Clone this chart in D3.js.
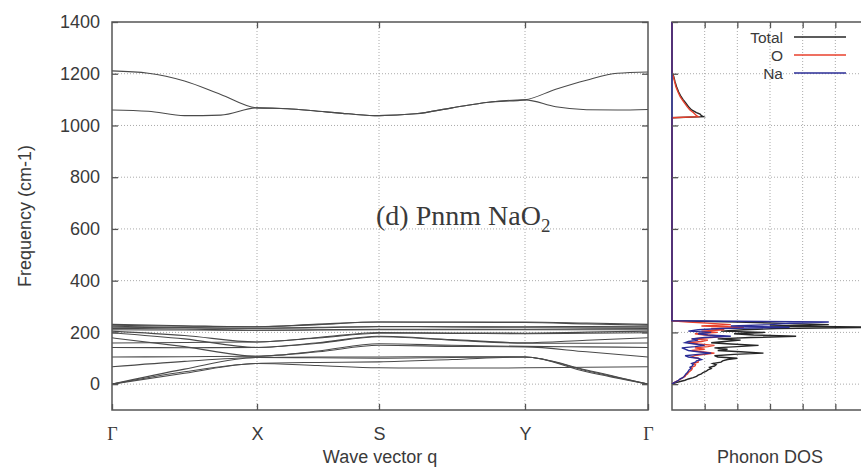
<!DOCTYPE html>
<html>
<head>
<meta charset="utf-8">
<script src="https://cdn.jsdelivr.net/npm/d3@7"></script>
<style>
  html, body { margin: 0; padding: 0; background: #fff; }
  svg { display: block; }
  text { font-family: "Liberation Sans", Arial, sans-serif; fill: #3a3a3a; }
  .serif { font-family: "Liberation Serif", "Times New Roman", serif; }
</style>
</head>
<body>
<svg id="chart" width="861" height="468"></svg>
<script>
// ---------------- DATA ----------------
const qLabels = ["Γ", "X", "S", "Y", "Γ"];
const qTicks = [0, 1, 2, 3, 4];
const freqTicks = [0, 200, 400, 600, 800, 1000, 1200, 1400];
const dosTicks = [1, 2, 3, 4, 5];

// Low-frequency branches sampled at Γ, ½, X, ½, S, ½, Y, ½, Γ
const qLow = [0, 0.5, 1, 1.5, 2, 2.5, 3, 3.5, 4];
const lowBranches = [
  [231, 226, 222, 232, 240, 240, 240, 236, 231],
  [228, 224, 222, 230, 240, 239, 238, 233, 228],
  [224, 219, 216, 220, 223, 222, 222, 223, 224],
  [220, 218, 216, 218, 222, 221, 220, 220, 220],
  [215, 213, 208, 210, 212, 212, 212, 214, 215],
  [210, 209, 208, 209, 210, 210, 210, 210, 210],
  [205, 188, 163, 180, 200, 198, 197, 201, 205],
  [199, 175, 142, 160, 185, 172, 160, 170, 179],
  [179, 145, 108, 128, 156, 150, 146, 144, 142],
  [159, 161, 163, 178, 197, 196, 195, 197, 199],
  [142, 141, 142, 158, 183, 170, 158, 158, 159],
  [105, 106, 108, 125, 150, 146, 144, 125, 105],
  [67, 88, 103, 105, 105, 106, 105, 55, 0],
  [0, 58, 103, 102, 100, 103, 105, 52, 0],
  [0, 48, 80, 84, 86, 95, 105, 48, 0],
  [0, 42, 80, 72, 63, 62, 63, 65, 67]
];

// High-frequency (O–O stretch) branches sampled every quarter segment
const qHigh = [0, 0.25, 0.5, 0.75, 1, 1.25, 1.5, 1.75, 2, 2.25, 2.5, 2.75, 3, 3.25, 3.5, 3.75, 4];
const highUpper = [1211, 1202, 1172, 1120, 1068, 1065, 1055, 1045, 1038, 1045, 1068, 1090, 1099, 1140, 1175, 1202, 1207];
const highLower = [1060, 1055, 1038, 1040, 1068, 1065, 1055, 1045, 1038, 1045, 1068, 1090, 1099, 1072, 1061, 1060, 1062];

// Phonon DOS (arbitrary units) – low-frequency region
const dosFreqLow = [0,5,10,15,20,25,30,35,40,45,50,55,60,65,70,75,80,85,90,95,100,105,110,115,120,125,130,135,140,145,150,155,160,165,170,175,180,185,190,195,200,205,210,215,220,225,230,235,240,245,250];
const dosTotalLow = [0,0.1,0.25,0.4,0.5,0.65,0.75,0.8,0.9,0.95,1.05,1.1,1.2,1.15,1.3,1.35,1.25,1.5,1.55,1.7,2.0,1.4,1.3,1.9,2.8,2.1,1.4,1.7,1.3,2.0,2.65,1.8,1.2,1.6,2.1,1.4,2.4,3.8,2.5,1.9,2.85,1.5,2.2,3.2,6.3,3.0,4.8,3.4,2.0,0,0];
const dosOLow = [0,0.05,0.12,0.2,0.27,0.33,0.4,0.42,0.48,0.5,0.55,0.6,0.62,0.6,0.7,0.72,0.65,0.8,0.8,0.85,0.8,0.6,0.7,1.0,1.3,0.9,0.6,1.0,0.7,1.1,1.3,0.8,0.5,0.9,1.1,0.6,1.2,1.6,1.0,0.7,1.4,0.9,1.6,1.2,2.2,0.9,1.8,1.2,0.5,0,0];
const dosNaLow = [0,0.05,0.13,0.2,0.25,0.33,0.37,0.4,0.43,0.47,0.5,0.52,0.58,0.55,0.62,0.65,0.6,0.72,0.75,0.9,0.8,0.5,0.4,0.8,1.2,0.8,0.5,0.4,0.3,0.7,1.0,0.7,0.4,0.5,0.8,0.6,1.0,1.8,1.1,0.8,1.2,0.5,0.8,1.5,3.6,1.8,3.0,3.6,4.8,0,0];

// Phonon DOS – high-frequency region
const dosFreqHigh = [1030,1034,1038,1044,1050,1060,1070,1087,1100,1111,1130,1150,1170,1190,1207,1220,1400];
const dosTotalHigh = [0,0.96,0.9,0.86,0.75,0.6,0.52,0.42,0.34,0.28,0.2,0.14,0.09,0.05,0,0,0];
const dosOHigh = [0,0.8,0.75,0.7,0.65,0.55,0.48,0.38,0.31,0.25,0.18,0.12,0.08,0.04,0,0,0];
const dosNaHigh = [0,0,0,0,0,0,0,0,0,0,0,0,0,0,0,0,0];

const legendNames = ["Total", "O", "Na"];
const seriesColors = ["#262626", "#e8412c", "#2a2d96"];

// ---------------- CHART ----------------
const svg = d3.select("#chart");
const yF = d3.scaleLinear().domain([-100, 1400]).range([410, 22]);
const xQ = d3.scaleLinear().domain(qTicks).range([112, 257, 379, 525, 648]);
const xD = d3.scaleLinear().domain([0, 6]).range([672, 868]);

const frameColor = "#555";
const gridStyle = sel => sel.attr("stroke", "#a0a0a0").attr("stroke-width", 0.9).attr("stroke-dasharray", "1,2");

// Grid - left panel
const gL = svg.append("g");
freqTicks.filter(v => v < 1400).forEach(v => {
  gL.append("line").attr("x1", xQ(0)).attr("x2", xQ(4)).attr("y1", yF(v)).attr("y2", yF(v)).call(gridStyle);
});
[1, 2, 3].forEach(v => {
  gL.append("line").attr("x1", xQ(v)).attr("x2", xQ(v)).attr("y1", yF(-100)).attr("y2", yF(1400)).call(gridStyle);
});
// Grid - DOS panel
freqTicks.filter(v => v < 1400).forEach(v => {
  gL.append("line").attr("x1", xD(0)).attr("x2", xD(6)).attr("y1", yF(v)).attr("y2", yF(v)).call(gridStyle);
});
dosTicks.forEach(v => {
  gL.append("line").attr("x1", xD(v)).attr("x2", xD(v)).attr("y1", yF(-100)).attr("y2", yF(1400)).call(gridStyle);
});

// Dispersion lines
const lineLow = d3.line().x((d, i) => xQ(qLow[i])).y(d => yF(d)).curve(d3.curveMonotoneX);
const lineHigh = d3.line().x((d, i) => xQ(qHigh[i])).y(d => yF(d)).curve(d3.curveMonotoneX);
const gB = svg.append("g").attr("fill", "none").attr("stroke", "#4a4a4a").attr("stroke-width", 1.05);
lowBranches.forEach(b => gB.append("path").attr("d", lineLow(b)));
[highUpper, highLower].forEach(b => gB.append("path").attr("d", lineHigh(b)));

// Frames
svg.append("rect").attr("x", xQ(0)).attr("y", yF(1400)).attr("width", xQ(4) - xQ(0)).attr("height", yF(-100) - yF(1400))
  .attr("fill", "none").attr("stroke", frameColor).attr("stroke-width", 1.5);
svg.append("rect").attr("x", xD(0)).attr("y", yF(1400)).attr("width", xD(6) - xD(0)).attr("height", yF(-100) - yF(1400))
  .attr("fill", "none").attr("stroke", frameColor).attr("stroke-width", 1.5);

// DOS curves (drawn over the frame, as in the reference)
const dosLine = d3.line().x(d => xD(d[1])).y(d => yF(d[0]));
const dosSeries = [
  [dosTotalLow, dosTotalHigh],
  [dosOLow, dosOHigh],
  [dosNaLow, dosNaHigh]
];
const clip = svg.append("clipPath").attr("id", "dosclip");
clip.append("rect").attr("x", xD(0) - 1).attr("y", yF(1400)).attr("width", xD(6) - xD(0) + 1).attr("height", yF(-100) - yF(1400));
const gD = svg.append("g").attr("clip-path", "url(#dosclip)").attr("fill", "none");
dosSeries.forEach((s, k) => {
  const pts = dosFreqLow.map((f, i) => [f, s[0][i]]).concat(dosFreqHigh.map((f, i) => [f, s[1][i]]));
  gD.append("path").attr("d", dosLine(pts)).attr("stroke", seriesColors[k]).attr("stroke-width", 1.4);
});

function styleAxis(g) {
  g.select(".domain").remove();
  g.selectAll(".tick line").attr("stroke", frameColor).attr("stroke-width", 1.3);
  g.selectAll(".tick text").attr("fill", "#3a3a3a");
}

// Left panel axes
svg.append("g").attr("transform", `translate(${xQ(0)},0)`)
  .call(d3.axisLeft(yF).tickValues(freqTicks).tickSize(-6).tickSizeOuter(0).tickPadding(12).tickFormat(d3.format("d")))
  .call(styleAxis)
  .call(g => g.selectAll(".tick text").style("font-size", "18px").style("font-family", "'Liberation Sans', Arial, sans-serif"));
svg.append("g").attr("transform", `translate(${xQ(4)},0)`)
  .call(d3.axisRight(yF).tickValues(freqTicks).tickSize(-6).tickSizeOuter(0).tickFormat(""))
  .call(styleAxis);
svg.append("g").attr("transform", `translate(0,${yF(-100)})`)
  .call(d3.axisBottom(xQ).tickValues(qTicks).tickSize(-6).tickSizeOuter(0).tickPadding(17).tickFormat(i => qLabels[i]))
  .call(styleAxis)
  .call(g => g.selectAll(".tick text").style("font-size", "18px")
    .style("font-family", (d) => qLabels[d] === "Γ" ? "'Liberation Serif', serif" : "'Liberation Sans', Arial, sans-serif"));
svg.append("g").attr("transform", `translate(0,${yF(1400)})`)
  .call(d3.axisTop(xQ).tickValues([1, 2, 3]).tickSize(-6).tickSizeOuter(0).tickFormat(""))
  .call(styleAxis);

// DOS panel axes
svg.append("g").attr("transform", `translate(${xD(0)},0)`)
  .call(d3.axisLeft(yF).tickValues(freqTicks).tickSize(-6).tickSizeOuter(0).tickFormat(""))
  .call(styleAxis);
svg.append("g").attr("transform", `translate(0,${yF(-100)})`)
  .call(d3.axisBottom(xD).tickValues(dosTicks).tickSize(-6).tickSizeOuter(0).tickFormat(""))
  .call(styleAxis);
svg.append("g").attr("transform", `translate(0,${yF(1400)})`)
  .call(d3.axisTop(xD).tickValues(dosTicks).tickSize(-6).tickSizeOuter(0).tickFormat(""))
  .call(styleAxis);

// Axis titles
svg.append("text").attr("transform", "translate(26,216) rotate(-90)").attr("text-anchor", "middle")
  .attr("dominant-baseline", "middle").style("font-size", "18px").text("Frequency (cm-1)");
svg.append("text").attr("x", 380).attr("y", 463).attr("text-anchor", "middle").style("font-size", "18px").text("Wave vector q");
svg.append("text").attr("x", 770).attr("y", 463).attr("text-anchor", "middle").style("font-size", "18px").text("Phonon DOS");

// Panel label
const title = svg.append("text").attr("class", "serif").attr("x", 376).attr("y", 225).style("font-size", "28px");
title.append("tspan").text("(d) Pnnm NaO");
title.append("tspan").attr("dy", 7).style("font-size", "19px").text("2");

// Legend
legendNames.forEach((n, i) => {
  const y = 37 + i * 18;
  svg.append("text").attr("x", 783).attr("y", y + 5.5).attr("text-anchor", "end").style("font-size", "15.5px").text(n);
  svg.append("line").attr("x1", 794).attr("x2", 846).attr("y1", y).attr("y2", y).attr("stroke", seriesColors[i]).attr("stroke-width", 1.5);
});
</script>
</body>
</html>
